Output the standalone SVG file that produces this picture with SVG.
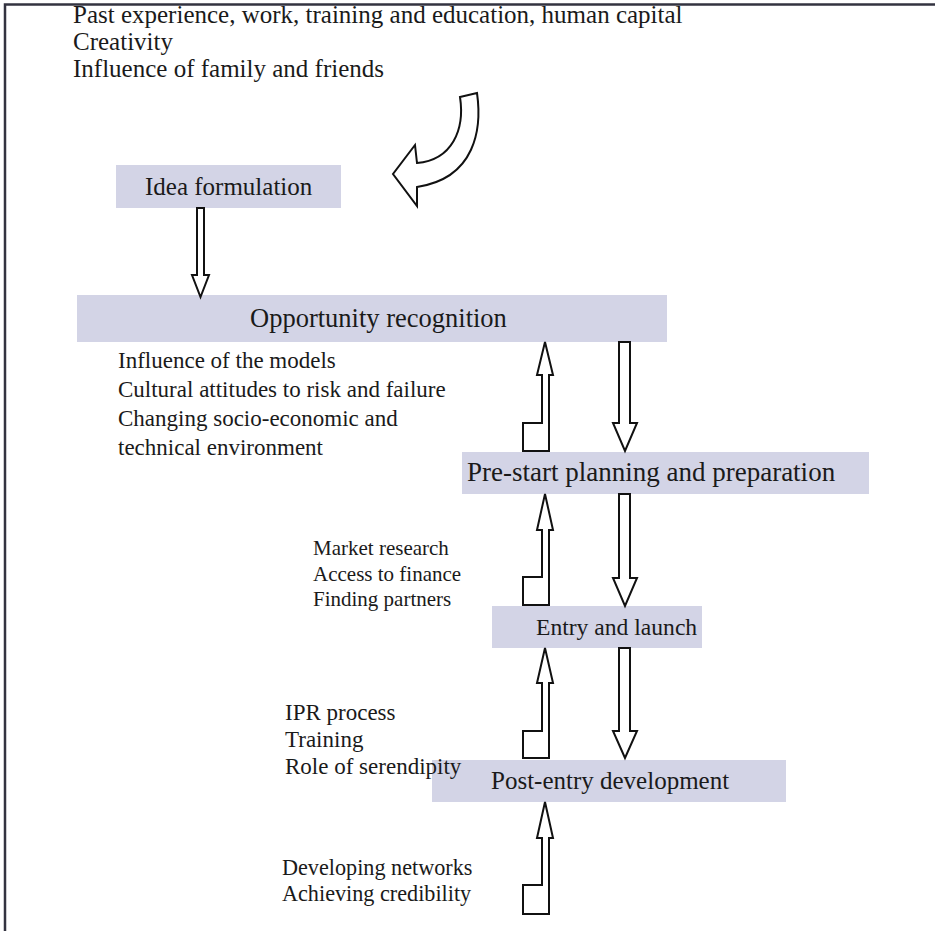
<svg xmlns="http://www.w3.org/2000/svg" width="935" height="931" viewBox="0 0 935 931">
  <defs>
    <style>
      .frame { stroke: #333340; stroke-width: 2.5; fill: none; }
      .box { fill: #d3d4e6; }
      .lbl { font-family: "Liberation Serif", "Times New Roman", serif; fill: #1a1a1a; }
      .arrow { fill: #ffffff; stroke: #111111; stroke-width: 2; stroke-linejoin: miter; }
    </style>
  </defs>

  <rect x="0" y="0" width="935" height="931" fill="#ffffff"/>

  <!-- page frame (top and left edges) -->
  <path class="frame" d="M5,931 L5,4.5 L935,4.5"/>

  <!-- influences on idea formulation -->
  <g id="influences-top" class="lbl" font-size="25">
    <text x="73" y="23">Past experience, work, training and education, human capital</text>
    <text x="73" y="50">Creativity</text>
    <text x="73" y="77">Influence of family and friends</text>
  </g>

  <!-- stage nodes -->
  <g id="idea-formulation">
    <rect class="box" x="116" y="165" width="225" height="43"/>
    <text class="lbl" x="145" y="195" font-size="25">Idea formulation</text>
  </g>

  <g id="opportunity-recognition">
    <rect class="box" x="77" y="295" width="590" height="47"/>
    <text class="lbl" x="250" y="327" font-size="26.5">Opportunity recognition</text>
  </g>

  <g id="pre-start">
    <rect class="box" x="462" y="452" width="407" height="42"/>
    <text class="lbl" x="467" y="481" font-size="27">Pre-start planning and preparation</text>
  </g>

  <g id="entry-launch">
    <rect class="box" x="492" y="606" width="210" height="42"/>
    <text class="lbl" x="536" y="635" font-size="23.6">Entry and launch</text>
  </g>

  <g id="post-entry">
    <rect class="box" x="432" y="760" width="354" height="42"/>
    <text class="lbl" x="491" y="789" font-size="25">Post-entry development</text>
  </g>

  <!-- factor lists -->
  <g id="factors-opportunity" class="lbl" font-size="23">
    <text x="118" y="368">Influence of the models</text>
    <text x="118" y="397">Cultural attitudes to risk and failure</text>
    <text x="118" y="426">Changing socio-economic and</text>
    <text x="118" y="455">technical environment</text>
  </g>

  <g id="factors-prestart" class="lbl" font-size="21">
    <text x="313" y="555">Market research</text>
    <text x="313" y="581">Access to finance</text>
    <text x="313" y="606">Finding partners</text>
  </g>

  <g id="factors-entry" class="lbl" font-size="23">
    <text x="285" y="720">IPR process</text>
    <text x="285" y="747">Training</text>
    <text x="285" y="774">Role of serendipity</text>
  </g>

  <g id="factors-post" class="lbl" font-size="22.2">
    <text x="282" y="875">Developing networks</text>
    <text x="282" y="901">Achieving credibility</text>
  </g>

  <!-- connectors -->
  <g id="connectors">
    <!-- curved arrow into idea formulation -->
    <path class="arrow" d="M460,97 L477,93 C482,128 476,178 417,187 L417,206 L393,174 L415,145 L417,163 C452,160 465,130 460,97 Z"/>

    <!-- idea formulation down to opportunity recognition -->
    <path class="arrow" d="M197,208 L204,208 L204,275 L209,275 L200.5,297 L192,275 L197,275 Z"/>

    <!-- feedback arrows (upward, with foot) -->
    <path class="arrow" d="M545,342 L553,375 L549,375 L549,451 L523,451 L523,423 L542,423 L542,375 L537,375 Z"/>
    <path class="arrow" d="M545,494 L553,530 L549,530 L549,605 L523,605 L523,577 L542,577 L542,530 L537,530 Z"/>
    <path class="arrow" d="M545,648 L553,683 L549,683 L549,758 L523,758 L523,731 L542,731 L542,683 L537,683 Z"/>
    <path class="arrow" d="M545,802 L553,838 L549,838 L549,914 L523,914 L523,885 L542,885 L542,838 L537,838 Z"/>

    <!-- forward arrows (downward) -->
    <path class="arrow" d="M619,342 L630,342 L630,423 L637,423 L625,451 L613,423 L619,423 Z"/>
    <path class="arrow" d="M619,494 L630,494 L630,578 L637,578 L625,606 L613,578 L619,578 Z"/>
    <path class="arrow" d="M619,648 L630,648 L630,731 L637,731 L625,758 L613,731 L619,731 Z"/>
  </g>
</svg>
